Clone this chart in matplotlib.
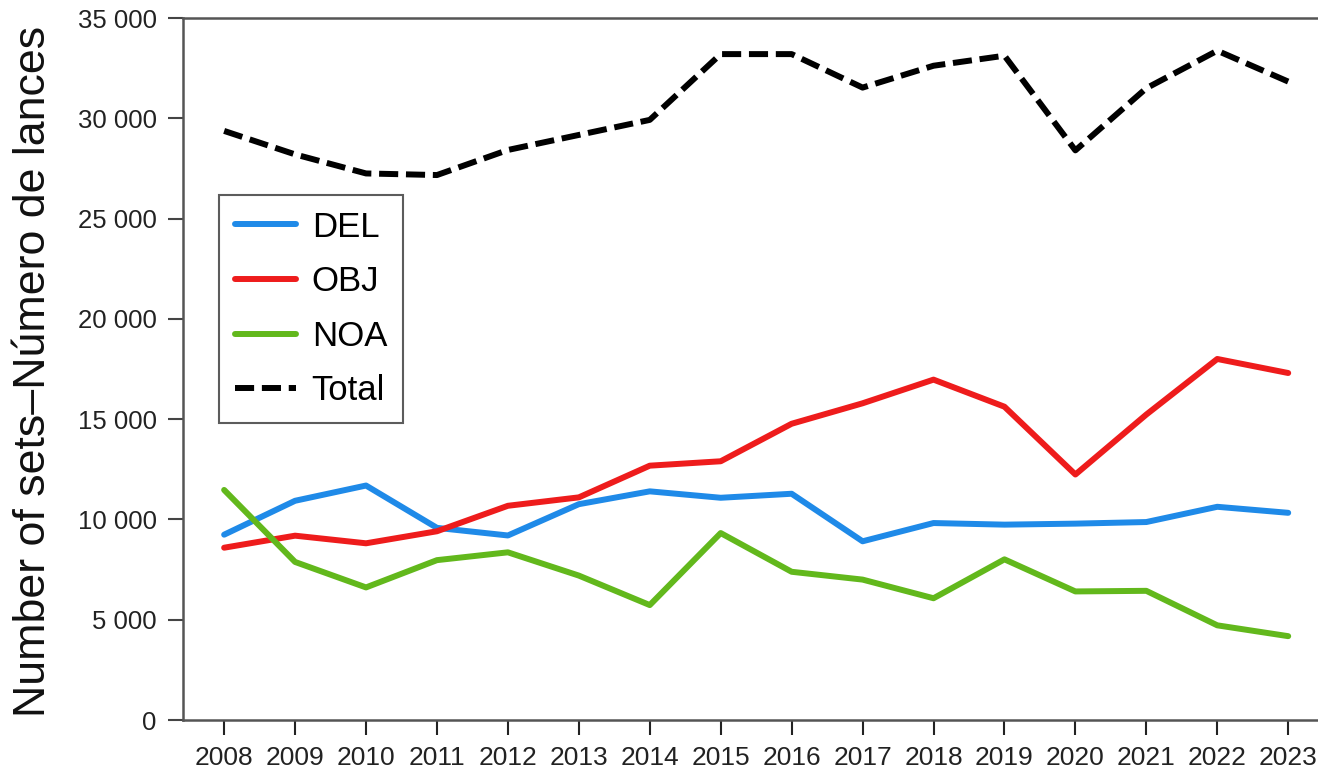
import matplotlib
matplotlib.use("Agg")
import matplotlib.pyplot as plt
from matplotlib.ticker import FuncFormatter

years = [2008, 2009, 2010, 2011, 2012, 2013, 2014, 2015,
         2016, 2017, 2018, 2019, 2020, 2021, 2022, 2023]
del_sets = [9240, 10930, 11690, 9580, 9200, 10760, 11400, 11080,
            11280, 8910, 9820, 9740, 9790, 9870, 10630, 10330]
obj_sets = [8590, 9190, 8810, 9410, 10680, 11100, 12680, 12900,
            14770, 15790, 16970, 15620, 12240, 15230, 18000, 17300]
noa_sets = [11470, 7880, 6610, 7970, 8360, 7200, 5730, 9320,
            7390, 7000, 6070, 8010, 6410, 6440, 4720, 4180]
total_sets = [29370, 28200, 27250, 27170, 28420, 29170, 29920, 33200,
              33200, 31530, 32620, 33120, 28400, 31500, 33370, 31830]
labels = ["DEL", "OBJ", "NOA", "Total"]
y_ticks = [0, 5000, 10000, 15000, 20000, 25000, 30000, 35000]

plt.rcParams['font.family'] = ['Liberation Sans', 'DejaVu Sans']

W, H = 1318, 772
fig = plt.figure(figsize=(W / 100, H / 100), dpi=100)
ax = fig.add_axes([183 / W, (H - 720) / H, (W - 183) / W, (720 - 18) / H])

lw = 4.3
ax.plot(years, del_sets, color='#1f8ae8', lw=lw, solid_capstyle='round',
        solid_joinstyle='round', label=labels[0])
ax.plot(years, obj_sets, color='#ee1c1c', lw=lw, solid_capstyle='round',
        solid_joinstyle='round', label=labels[1])
ax.plot(years, noa_sets, color='#62b81c', lw=lw, solid_capstyle='round',
        solid_joinstyle='round', label=labels[2])
ax.plot(years, total_sets, color='black', lw=lw, dashes=(3.2, 1.3),
        dash_capstyle='butt', label=labels[3])

ax.set_xlim(2007.42, 2023.42)
ax.set_ylim(0, 35000)
ax.set_xticks(years)
ax.set_yticks(y_ticks)
ax.yaxis.set_major_formatter(FuncFormatter(lambda v, p: f"{int(v):,}".replace(",", " ")))
ax.tick_params(axis='x', labelsize=19, length=11, width=1.5, color='#222222',
               pad=8, direction='out')
ax.tick_params(axis='y', labelsize=18.5, length=11, width=1.5, color='#444444',
               pad=8, direction='out')
for t in ax.get_yticklabels() + ax.get_xticklabels():
    t.set_color('#222222')

for s in ['left', 'bottom', 'top']:
    ax.spines[s].set_color('#555555')
    ax.spines[s].set_linewidth(1.8)
ax.spines['right'].set_visible(False)

# y label: scale font so it spans roughly from y=25 to y=718 px
ylab = fig.text(34 / W, 1 - 371 / H, "Number of sets\u2013Número de lances",
                rotation=90, ha='center', va='center', fontsize=30, color='#111111')
fig.canvas.draw()
ext = ylab.get_window_extent(renderer=fig.canvas.get_renderer())
ylab.set_fontsize(30 * 690 / ext.height)

leg = ax.legend(loc='upper left', bbox_to_anchor=(219 / W, 1 - 195 / H),
                bbox_transform=fig.transFigure, fontsize=25, frameon=True,
                fancybox=False, handlelength=1.76, handletextpad=0.46,
                labelspacing=0.62, borderpad=0.45, borderaxespad=0)
leg.get_frame().set_edgecolor('#333333')
leg.get_frame().set_linewidth(1.5)

fig.savefig("out.png", dpi=100)
